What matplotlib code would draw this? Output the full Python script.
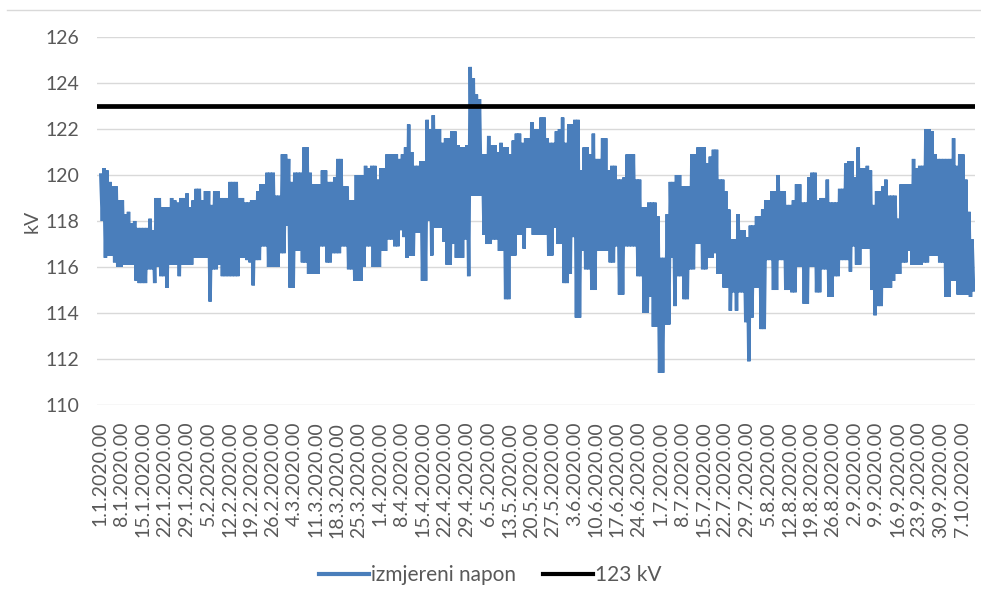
import numpy as np
import pandas as pd
import matplotlib
matplotlib.use("Agg")
import matplotlib.pyplot as plt
from matplotlib.lines import Line2D

# daily upper / lower envelope of the measured voltage (kV), read off the chart
# day 0 = 1.1.2020
napon_max = [
    120.0, 120.3, 120.2, 119.7, 119.5, 119.5, 118.9, 118.9, 118.3, 118.4,
    117.9, 118.0, 117.7, 117.7, 117.7, 117.7, 118.1, 117.6, 119.0, 119.0,
    118.6, 118.6, 118.6, 119.0, 118.9, 118.8, 119.0, 119.0, 119.2, 118.6,
    118.9, 119.4, 119.4, 118.9, 119.3, 119.3, 118.7, 119.3, 119.3, 119.0,
    119.0, 119.0, 119.7, 119.7, 119.7, 119.0, 119.0, 118.8, 118.8, 118.9,
    118.9, 119.3, 119.6, 119.6, 120.1, 120.1, 120.1, 119.1, 119.1, 120.9,
    120.9, 120.7, 119.7, 120.1, 120.1, 120.1, 121.2, 121.2, 120.1, 119.6,
    119.6, 119.6, 120.2, 120.2, 119.7, 119.7, 119.9, 120.7, 120.7, 119.5,
    119.5, 118.9, 118.9, 120.0, 120.0, 120.0, 120.4, 120.3, 120.4, 120.4,
    119.8, 120.3, 120.3, 120.9, 120.9, 120.9, 120.9, 120.7, 120.9, 121.2,
    122.2, 121.0, 120.4, 120.4, 120.6, 120.6, 122.4, 122.0, 122.6, 122.0,
    122.0, 121.4, 121.6, 121.6, 121.9, 121.9, 121.3, 121.2, 121.2, 121.3,
    124.7, 124.2, 123.5, 123.3, 120.9, 120.9, 121.7, 121.3, 121.3, 121.0,
    121.4, 121.2, 121.2, 120.9, 121.5, 121.8, 121.8, 121.4, 121.6, 121.6,
    122.3, 122.0, 122.0, 122.5, 122.5, 121.6, 121.4, 121.4, 121.9, 122.0,
    122.5, 121.4, 122.2, 122.2, 122.4, 122.4, 120.2, 121.2, 121.2, 120.9,
    121.8, 120.7, 120.7, 121.6, 121.6, 120.2, 120.4, 120.4, 119.8, 119.8,
    119.9, 120.9, 120.9, 120.9, 119.8, 119.8, 118.6, 118.6, 118.8, 118.8,
    118.8, 118.2, 116.4, 116.4, 118.3, 119.7, 119.7, 120.0, 120.0, 119.5,
    119.5, 119.5, 120.9, 120.9, 121.2, 121.2, 121.2, 120.5, 120.8, 121.1,
    121.1, 119.8, 119.8, 119.3, 118.5, 117.2, 117.2, 118.3, 117.6, 117.6,
    117.3, 117.8, 117.8, 118.2, 118.2, 118.5, 118.9, 118.9, 119.3, 119.3,
    120.0, 119.3, 119.3, 118.7, 118.7, 118.9, 119.6, 119.6, 118.8, 118.8,
    119.9, 120.1, 120.1, 118.9, 119.0, 119.0, 119.8, 118.8, 118.8, 118.8,
    119.4, 119.4, 120.5, 120.6, 120.6, 119.9, 121.2, 120.3, 120.3, 120.4,
    120.2, 118.7, 119.3, 119.3, 119.5, 119.8, 119.1, 119.1, 119.1, 118.1,
    119.6, 119.6, 119.6, 119.6, 120.7, 120.3, 120.4, 120.4, 122.0, 122.0,
    121.9, 120.9, 120.7, 120.7, 120.7, 120.7, 120.7, 121.6, 120.4, 120.9,
    120.9, 119.8, 118.4, 117.2,
]
napon_min = [
    118.0, 116.4, 116.5, 116.5, 116.2, 116.0, 116.0, 116.1, 116.1, 116.1,
    116.1, 115.4, 115.3, 115.3, 115.3, 115.9, 115.9, 115.3, 116.0, 115.6,
    115.6, 115.1, 116.1, 116.1, 116.1, 115.6, 116.1, 116.1, 116.1, 116.1,
    116.4, 116.4, 116.4, 116.4, 116.4, 114.5, 115.9, 115.9, 116.1, 115.6,
    115.6, 115.6, 115.6, 115.6, 115.6, 116.4, 116.4, 116.3, 116.2, 115.2,
    116.3, 116.3, 116.9, 116.9, 116.0, 116.0, 116.0, 116.0, 116.6, 116.6,
    117.8, 115.1, 115.1, 116.7, 116.7, 116.2, 116.2, 115.7, 115.7, 115.7,
    115.7, 116.9, 116.9, 116.2, 116.2, 116.6, 116.6, 116.6, 116.9, 116.9,
    115.9, 115.9, 115.4, 115.4, 115.4, 116.0, 116.9, 116.9, 116.0, 116.0,
    116.0, 116.7, 116.7, 117.2, 117.2, 116.9, 116.9, 117.6, 117.3, 116.4,
    116.5, 116.5, 117.5, 117.5, 115.4, 115.4, 118.0, 116.5, 117.7, 117.7,
    117.7, 117.1, 116.1, 116.1, 117.0, 116.4, 116.4, 116.4, 117.2, 115.6,
    119.1, 119.1, 119.1, 119.1, 117.4, 117.0, 117.0, 117.2, 117.2, 116.7,
    116.7, 114.6, 114.6, 116.5, 116.5, 117.4, 117.4, 116.8, 117.7, 117.7,
    117.4, 117.4, 117.4, 117.4, 117.4, 116.5, 116.5, 117.7, 117.0, 117.0,
    115.3, 115.3, 115.7, 117.3, 113.8, 113.8, 116.7, 115.9, 115.9, 115.0,
    115.0, 116.7, 116.7, 116.7, 116.7, 116.2, 116.2, 116.9, 114.8, 114.8,
    116.9, 116.9, 116.9, 116.9, 115.6, 115.6, 114.0, 114.0, 114.7, 113.4,
    113.4, 111.4, 111.4, 113.5, 113.5, 116.4, 114.3, 115.6, 115.6, 114.6,
    114.6, 115.9, 115.9, 117.0, 117.0, 115.9, 115.9, 116.4, 116.4, 116.6,
    115.7, 115.7, 115.1, 115.1, 114.1, 114.9, 114.1, 114.9, 114.9, 113.6,
    111.9, 113.8, 115.1, 115.1, 113.3, 113.3, 116.3, 116.3, 115.0, 115.0,
    116.3, 116.3, 115.0, 115.0, 114.9, 114.9, 116.0, 116.0, 114.4, 114.4,
    116.0, 116.0, 114.9, 114.9, 115.9, 115.9, 114.7, 114.7, 115.6, 115.6,
    116.3, 116.3, 116.3, 115.8, 116.9, 116.1, 116.1, 116.8, 116.8, 116.8,
    115.0, 113.9, 114.3, 114.3, 115.1, 115.1, 115.1, 115.4, 115.7, 115.7,
    116.2, 116.2, 116.7, 116.1, 116.1, 116.1, 116.1, 116.2, 116.2, 116.5,
    116.5, 116.5, 116.2, 116.2, 114.7, 114.7, 115.4, 115.4, 114.8, 114.8,
    114.8, 114.8, 114.7, 115.0,
]
granica = 123.0

dani = np.arange(len(napon_max))
datumi = pd.date_range("2020-01-01", periods=len(napon_max), freq="D")
tick_dani = dani[::7]
tick_labels = [f"{d.day}.{d.month}.{d.year}.00" for d in datumi[::7]]

plava = "#4a7ebb"
siva = "#595959"

plt.rcParams["font.family"] = ["Lato", "DejaVu Sans"]

fig = plt.figure(figsize=(9.81, 6.04), dpi=100)
ax = fig.add_axes([0.099, 0.3295, 0.895, 0.6092])

# zig-zag through daily max/min so the band looks like the dense hourly trace
x = np.empty(2 * len(dani))
y = np.empty(2 * len(dani))
x[0::2] = dani + 0.2
x[1::2] = dani + 0.7
y[0::2] = napon_max
y[1::2] = napon_min
ax.plot(x, y, color=plava, lw=2.5, solid_joinstyle="miter", zorder=2)
ax.axhline(granica, color="black", lw=3.4, zorder=3)

ax.set_ylim(110, 126)
ax.set_yticks(np.arange(110, 127, 2))
ax.set_xlim(-1.0, 284.2)
ax.set_xticks(tick_dani)
ax.set_xticklabels(tick_labels, rotation=90)

ax.grid(axis="y", color="#d9d9d9", lw=1.0)
ax.set_axisbelow(True)
for s in ax.spines.values():
    s.set_visible(False)
ax.tick_params(axis="both", length=0, colors=siva, labelsize=14)
ax.tick_params(axis="x", pad=12)
ax.tick_params(axis="y", pad=13)
ax.set_ylabel("kV", color=siva, fontsize=14, labelpad=3)

handles = [Line2D([], [], color=plava, lw=3),
           Line2D([], [], color="black", lw=3)]
fig.legend(handles, ["izmjereni napon", "123 kV"], loc="center",
           bbox_to_anchor=(0.5, 0.048), ncol=2, frameon=False, fontsize=15,
           labelcolor=siva, handlelength=2.4, handletextpad=0.1,
           columnspacing=1.3)

fig.add_artist(Line2D([0.007, 1.0], [1 - 10 / 604, 1 - 10 / 604],
                      color="#d9d9d9", lw=1.0, transform=fig.transFigure))

fig.savefig("out.png", dpi=100)
